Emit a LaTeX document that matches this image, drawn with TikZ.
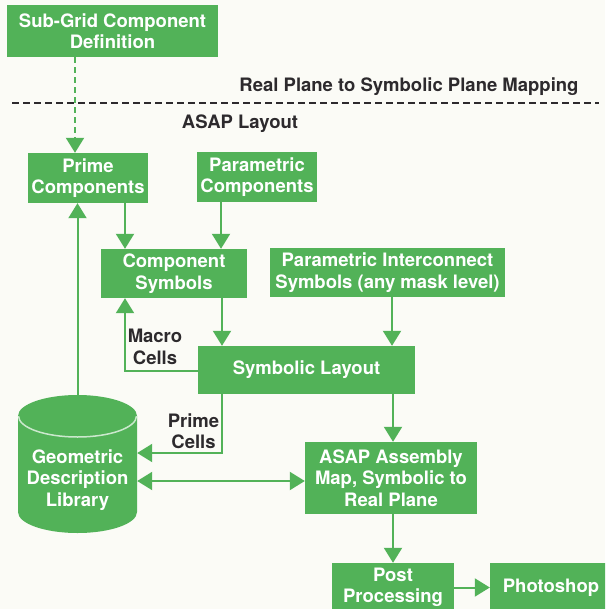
\documentclass[tikz,border=0pt]{standalone}
\usepackage{fontspec}
\setmainfont{TeX Gyre Heros}
\usetikzlibrary{arrows.meta,calc}
\definecolor{gr}{RGB}{82,178,88}
\definecolor{bg}{RGB}{251,251,246}
\definecolor{ink}{RGB}{45,42,45}
\begin{document}
\begin{tikzpicture}[x=1pt,y=-1pt,
  txt/.style={font=\bfseries\fontsize{18.5}{21.5}\selectfont,align=center,inner sep=0pt},
  box/.style={txt,fill=gr,text=white},
  lbl/.style={txt,text=ink},
  arr/.style={draw=gr,line width=2pt,-{Triangle[width=18pt,length=15pt]}},
  darr/.style={draw=gr,line width=2pt,{Triangle[width=18pt,length=15pt]}-{Triangle[width=18pt,length=15pt]}},
  ln/.style={draw=gr,line width=2pt}]
\useasboundingbox (0,0) rectangle (605,609);
\fill[bg] (0,0) rectangle (605,609);
\clip (0,0) rectangle (605,609);

% boxes
\node[box,minimum width=211pt,minimum height=52pt] (sub) at (112.5,31) {Sub-Grid Component\\Definition};
\node[box,minimum width=120pt,minimum height=50pt] (prime) at (88,178) {Prime\\Components};
\node[box,minimum width=120pt,minimum height=50pt] (parc) at (257,177) {Parametric\\Components};
\node[box,minimum width=146pt,minimum height=49pt] (csym) at (174,273.5) {Component\\Symbols};
\node[box,minimum width=235pt,minimum height=49pt] (pis) at (387.5,272.5) {Parametric Interconnect\\Symbols (any mask level)};
\node[box,minimum width=217pt,minimum height=48pt] (sl) at (306.5,370) {Symbolic Layout};
\node[box,minimum width=172pt,minimum height=72pt] (asap) at (391,478) {ASAP Assembly\\Map, Symbolic to\\Real Plane};
\node[box,minimum width=122pt,minimum height=49pt] (post) at (393,587.5) {Post\\Processing};
\node[box,minimum width=122pt,minimum height=49pt] (photo) at (551,587.5) {Photoshop};

% cylinder
\node[minimum width=119pt,minimum height=138pt,inner sep=0pt] (cyl) at (77.5,464) {};
\fill[gr] (18,416) -- (18,512) arc (180:0:59.5 and 21) -- (137,416) arc (0:-180:59.5 and 21) -- cycle;
\draw[white!70!gr,line width=1.5pt] (18.5,416) arc (180:0:59 and 21);
\node[box,fill=none] (cyltxt) at (77.5,480) {Geometric\\Description\\Library};

% headings
\node[lbl] (rp) at (409,87) {Real Plane to Symbolic Plane Mapping};
\node[lbl] (al) at (240,124) {ASAP Layout};
\coordinate (dl) at (12,103);
\coordinate (dr) at (599,103);
\draw[ink,line width=2pt,dash pattern=on 7pt off 4pt] (dl) -- (dr);

% connectors
\coordinate (xa) at (75,0);
\draw[arr,dash pattern=on 6pt off 4pt] (sub.south -| xa) -- (prime.north -| xa);
\draw[arr] (cyl.north) -- (prime.south -| cyl.north);
\coordinate (xb) at (125,0);
\draw[arr] (prime.south -| xb) -- (csym.north -| xb);
\coordinate (xc) at (221,0);
\draw[arr] (parc.south -| xc) -- (csym.north -| xc);
\coordinate (xd) at (222,0);
\draw[arr] (csym.south -| xd) -- (sl.north -| xd);
\coordinate (xe) at (392,0);
\draw[arr] (pis.south -| xe) -- (sl.north -| xe);
\coordinate (xf) at (393,0);
\draw[arr] (sl.south -| xf) -- (asap.north -| xf);
\draw[arr] (asap.south -| xf) -- (post.north -| xf);
\draw[arr] (post.east) -- (photo.west);

\coordinate (ym) at (0,371);
\draw[arr] (sl.west |- ym) -| (csym.south -| xb);
\coordinate (yp) at (0,453);
\draw[arr] (sl.south -| xd) |- (cyl.east |- yp);
\coordinate (yd) at (0,481);
\draw[darr] (cyl.east |- yd) -- (asap.west |- yd);

\node[lbl] (mc) at (155,347) {Macro\\Cells};
\node[lbl] (pc) at (193.5,431) {Prime\\Cells};
\end{tikzpicture}
\end{document}
